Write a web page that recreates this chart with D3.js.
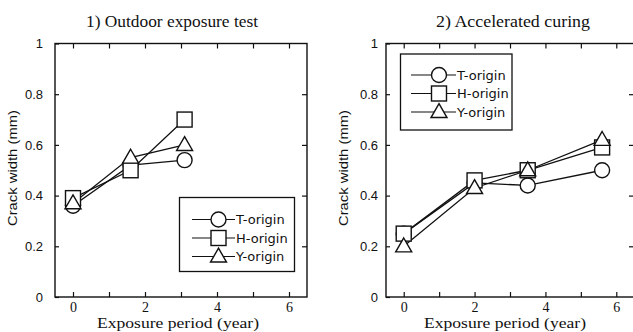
<!DOCTYPE html>
<html>
<head>
<meta charset="utf-8">
<script src="https://cdn.jsdelivr.net/npm/d3@7/dist/d3.min.js"></script>
<style>
  body { margin: 0; background: #fff; }
  svg { display: block; }
  .tick line { stroke: #111; stroke-width: 1.2; }
</style>
</head>
<body>
<svg id="chart" width="633" height="332"></svg>
<script>
// values
var seriesNames = ["T-origin", "H-origin", "Y-origin"];
var seriesShapes = ["circle", "square", "triangle"];

var outdoorYears = [0, 1.6, 3.1];
var outdoorT = [0.36, 0.52, 0.54];
var outdoorH = [0.39, 0.50, 0.70];
var outdoorY = [0.37, 0.55, 0.60];

var accelYears = [0, 2, 3.5, 5.6];
var accelT = [0.25, 0.45, 0.44, 0.50];
var accelH = [0.25, 0.46, 0.50, 0.59];
var accelY = [0.20, 0.43, 0.50, 0.62];

var xTicks = [0, 1, 2, 3, 4, 5, 6];
var yTicks = [0, 0.2, 0.4, 0.6, 0.8, 1];

var panelTitles = ["1) Outdoor exposure test", "2) Accelerated curing"];
var xTitle = "Exposure period (year)";
var yTitle = "Crack width (mm)";

var svg = d3.select("#chart");

var panels = [
  {title: panelTitles[0], years: outdoorYears, vals: [outdoorT, outdoorH, outdoorY],
   left: 55, right: 307, titleX: 172, titleLen: 172, xTitleX: 178, yTitleX: 13, yPad: 12,
   legend: {x: 179.5, y: 197.5, w: 115, h: 74, first: 219.5, step: 18.5, l0: 192, mk: 218.5, tx: 236}},
  {title: panelTitles[1], years: accelYears, vals: [accelT, accelH, accelY],
   left: 386, right: 634, titleX: 513, titleLen: 154, xTitleX: 505, yTitleX: 344, yPad: 8,
   legend: {x: 400.5, y: 54, w: 111.5, h: 76, first: 75, step: 18.5, l0: 411, mk: 439, tx: 457}}
];

var plotTop = 43.5, plotBottom = 297;

function drawMarker(g, shape, cx, cy) {
  var m;
  if (shape == "circle") {
    m = g.append("circle").attr("cx", cx).attr("cy", cy).attr("r", 7.5);
  } else if (shape == "square") {
    m = g.append("rect").attr("x", cx - 7.5).attr("y", cy - 7.5).attr("width", 15).attr("height", 15);
  } else {
    var s = 16, h = s * 0.866;
    m = g.append("path").attr("d", "M" + cx + "," + (cy - h * 0.6) +
      "L" + (cx + s / 2) + "," + (cy + h * 0.4) + "L" + (cx - s / 2) + "," + (cy + h * 0.4) + "Z");
  }
  m.attr("fill", "#fff").attr("stroke", "#111").attr("stroke-width", 1.4);
}

panels.forEach(function (p) {
  var x = d3.scaleLinear().domain([-0.5, 6.5]).range([p.left, p.right]);
  var y = d3.scaleLinear().domain([0, 1]).range([plotBottom, plotTop]);
  var g = svg.append("g");

  /* Axes with inward ticks */
  var fmtY = function (d) { return String(+d.toFixed(1)); };
  g.append("g").attr("transform", "translate(" + p.left + ",0)")
    .call(d3.axisLeft(y).tickValues(yTicks).tickFormat(fmtY).tickSize(-4).tickPadding(p.yPad))
    .call(function (a) { a.select(".domain").remove(); })
    .selectAll("text").style("font-family", "Liberation Sans, Arial, sans-serif")
    .style("font-size", "13px").attr("fill", "#111");

  g.append("g").attr("transform", "translate(" + p.right + ",0)")
    .call(d3.axisRight(y).tickValues(yTicks.slice(1, 5)).tickFormat("").tickSize(-5))
    .call(function (a) { a.select(".domain").remove(); });

  g.append("g").attr("transform", "translate(0," + plotBottom + ")")
    .call(d3.axisBottom(x).tickValues(xTicks)
      .tickFormat(function (d) { return d % 2 ? "" : d; }).tickSize(-5).tickPadding(5))
    .call(function (a) { a.select(".domain").remove(); })
    .selectAll("text").style("font-family", "Liberation Serif, Times New Roman, serif")
    .style("font-size", "14px").attr("fill", "#111");

  g.append("g").attr("transform", "translate(0," + plotTop + ")")
    .call(d3.axisTop(x).tickValues(xTicks).tickFormat("").tickSize(-5))
    .call(function (a) { a.select(".domain").remove(); });

  /* Frame */
  g.append("rect").attr("x", p.left).attr("y", plotTop)
    .attr("width", p.right - p.left).attr("height", plotBottom - plotTop)
    .attr("fill", "none").attr("stroke", "#111").attr("stroke-width", 1.4);

  /* Titles */
  g.append("text").attr("x", p.titleX).attr("y", 27).attr("text-anchor", "middle")
    .attr("textLength", p.titleLen).attr("lengthAdjust", "spacingAndGlyphs")
    .style("font-family", "Liberation Serif, Times New Roman, serif").style("font-size", "17px")
    .attr("fill", "#111").text(p.title);

  g.append("text").attr("x", p.xTitleX).attr("y", 328).attr("text-anchor", "middle")
    .attr("textLength", 162).attr("lengthAdjust", "spacingAndGlyphs")
    .style("font-family", "Liberation Serif, Times New Roman, serif").style("font-size", "15px")
    .attr("fill", "#111").text(xTitle);

  g.append("text").attr("transform", "translate(" + (p.yTitleX + 4) + ",168) rotate(-90)")
    .attr("text-anchor", "middle").attr("textLength", 116).attr("lengthAdjust", "spacingAndGlyphs")
    .style("font-family", "Liberation Sans, Arial, sans-serif").style("font-size", "12px")
    .attr("fill", "#111").text(yTitle);

  /* Lines, then markers */
  var line = d3.line().x(function (d) { return x(d[0]); }).y(function (d) { return y(d[1]); });
  p.vals.forEach(function (vals) {
    var pts = p.years.map(function (yr, i) { return [yr, vals[i]]; });
    g.append("path").attr("d", line(pts)).attr("fill", "none")
      .attr("stroke", "#111").attr("stroke-width", 1.3);
  });
  p.vals.forEach(function (vals, s) {
    p.years.forEach(function (yr, i) {
      drawMarker(g, seriesShapes[s], x(yr), y(vals[i]));
    });
  });

  /* Legend */
  var L = p.legend;
  g.append("rect").attr("x", L.x).attr("y", L.y).attr("width", L.w).attr("height", L.h)
    .attr("fill", "#fff").attr("stroke", "#111").attr("stroke-width", 1.3);
  seriesNames.forEach(function (name, s) {
    var cy = L.first + s * L.step;
    g.append("line").attr("x1", L.l0).attr("x2", L.tx - 1).attr("y1", cy).attr("y2", cy)
      .attr("stroke", "#111").attr("stroke-width", 1.2);
    drawMarker(g, seriesShapes[s], L.mk, cy);
    g.append("text").attr("x", L.tx).attr("y", cy + 4.5)
      .style("font-family", "DejaVu Sans, Verdana, sans-serif").style("font-size", "13px")
      .attr("fill", "#111").text(name);
  });
});
</script>
</body>
</html>
